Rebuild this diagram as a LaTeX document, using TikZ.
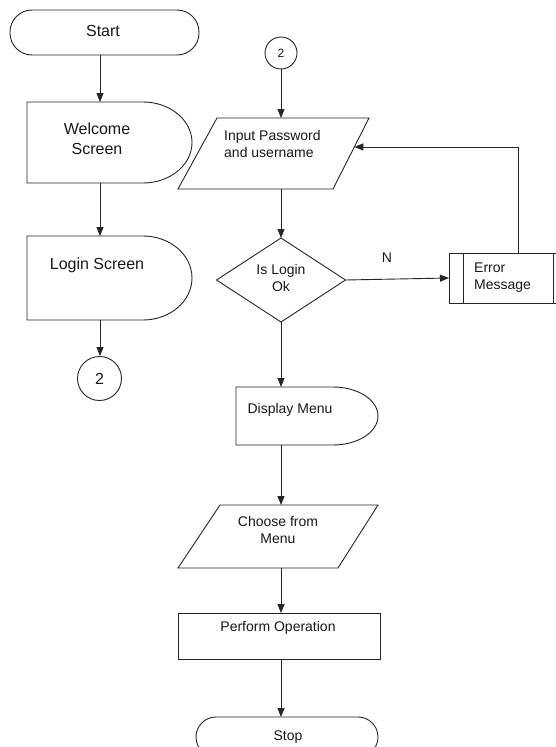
\documentclass[tikz,border=0pt]{standalone}
\usepackage{fontspec}
\setmainfont{Liberation Sans}
\usetikzlibrary{arrows.meta,calc}
\begin{document}
\begin{tikzpicture}[x=1pt,y=-1pt,
  box/.style={draw=none,rectangle,inner sep=0pt,outer sep=0pt},
  outline/.style={draw=black!85,line width=0.9pt},
  flow/.style={draw=black!85,line width=0.9pt,-{Triangle[length=9pt,width=7pt]}},
  lbig/.style={font=\fontsize{16}{20}\selectfont,align=center,inner sep=0pt,text=black!90},
  lsmall/.style={font=\fontsize{14}{17}\selectfont,align=center,inner sep=0pt,text=black!90}]
\useasboundingbox (0,0) rectangle (556,747);
\clip (0,0) rectangle (556,747);
\fill[white] (0,0) rectangle (556,747);

% left column
\node[box,outline,minimum width=189pt,minimum height=45pt,rounded corners=22pt] (start) at (104.5,32.5) {};
\node[lbig] (startT) at (103,31) {Start};

\node[box,minimum width=165pt,minimum height=81pt] (wel) at (109.5,142.5) {};
\draw[outline] ($(wel.south east)+(-49,0)$) -- (wel.south west) -- (wel.north west) -- ($(wel.north east)+(-49,0)$) arc[start angle=-90,end angle=90,x radius=49,y radius=40.5] -- cycle;
\node[lbig] (welT) at (97,139) {Welcome\\Screen};

\node[box,minimum width=165pt,minimum height=84pt] (log) at (109.5,278) {};
\draw[outline] ($(log.south east)+(-49,0)$) -- (log.south west) -- (log.north west) -- ($(log.north east)+(-49,0)$) arc[start angle=-90,end angle=90,x radius=49,y radius=42] -- cycle;
\node[lbig] (logT) at (97,265) {Login Screen};

\node[circle,outline,minimum size=44pt,inner sep=0pt,font=\fontsize{16}{20}\selectfont,text=black!90] (c1) at (99.5,378.5) {2};

% right column
\node[circle,outline,minimum size=32pt,inner sep=0pt,font=\fontsize{12}{14}\selectfont,text=black!90] (c2) at (281,53) {2};

\node[box,minimum width=191pt,minimum height=71pt] (inp) at (273.5,153.5) {};
\coordinate (inpSE) at ($(inp.south east)+(-36,0)$);
\draw[outline] ($(inp.north west)+(39,0)$) -- (inp.north east) -- (inpSE) -- (inp.south west) -- cycle;
\node[lsmall,align=left,anchor=west] (inpT) at (224,143.5) {Input Password\\and username};

\node[box,minimum width=129pt,minimum height=84pt] (dia) at (281,280) {};
\draw[outline] (dia.north) -- (dia.east) -- (dia.south) -- (dia.west) -- cycle;
\node[lsmall] (diaT) at (281,278) {Is Login\\Ok};

\node[lsmall] (nT) at (387,258) {N};

\node[box,outline,minimum width=107pt,minimum height=50pt] (err) at (502.5,278) {};
\draw[outline] ($(err.north west)+(14,0)$) -- ($(err.south west)+(14,0)$);
\draw[outline] ($(err.north east)+(-3,0)$) -- ($(err.south east)+(-3,0)$);
\node[lsmall,align=left,anchor=west] (errT) at (474,277.5) {Error\\Message};

\node[box,minimum width=142pt,minimum height=58pt] (dis) at (307,416) {};
\draw[outline] ($(dis.south east)+(-45,0)$) -- (dis.south west) -- (dis.north west) -- ($(dis.north east)+(-45,0)$) arc[start angle=-90,end angle=90,x radius=45,y radius=29] -- cycle;
\node[lsmall] (disT) at (290,410) {Display Menu};

\node[box,minimum width=200pt,minimum height=63pt] (cho) at (278,536.5) {};
\draw[outline] ($(cho.north west)+(42,0)$) -- (cho.north east) -- ($(cho.south east)+(-40,0)$) -- (cho.south west) -- cycle;
\node[lsmall] (choT) at (278,529.5) {Choose from\\Menu};

\node[box,outline,minimum width=202pt,minimum height=46pt] (per) at (279,636) {};
\node[lsmall] (perT) at (278,628) {Perform Operation};

\node[box,outline,minimum width=182pt,minimum height=40pt,rounded corners=20pt] (stop) at (287,737) {};
\node[lsmall] (stopT) at (288,737) {Stop};

% connectors
\coordinate (lx) at (100,0);
\coordinate (rx) at (281,0);
\draw[flow] (start.south -| lx) -- (wel.north -| lx);
\draw[flow] (wel.south -| lx) -- (log.north -| lx);
\draw[flow] (log.south -| lx) -- (c1.north -| lx);
\draw[flow] (c2.south) -- (inp.north -| rx);
\draw[flow] (inp.south -| rx) -- (dia.north);
\draw[flow] (dia.east) -- (err.west);
\coordinate (fb) at ($(err.north)+(15.5,0)$);
\coordinate (pe) at ($(inp.north east)!0.408!(inpSE)$);
\draw[flow] (fb) |- (pe);
\draw[flow] (dia.south) -- (dis.north -| rx);
\draw[flow] (dis.south -| rx) -- (cho.north -| rx);
\draw[flow] (cho.south -| rx) -- (per.north -| rx);
\draw[flow] (per.south -| rx) -- (stop.north -| rx);
\end{tikzpicture}
\end{document}
